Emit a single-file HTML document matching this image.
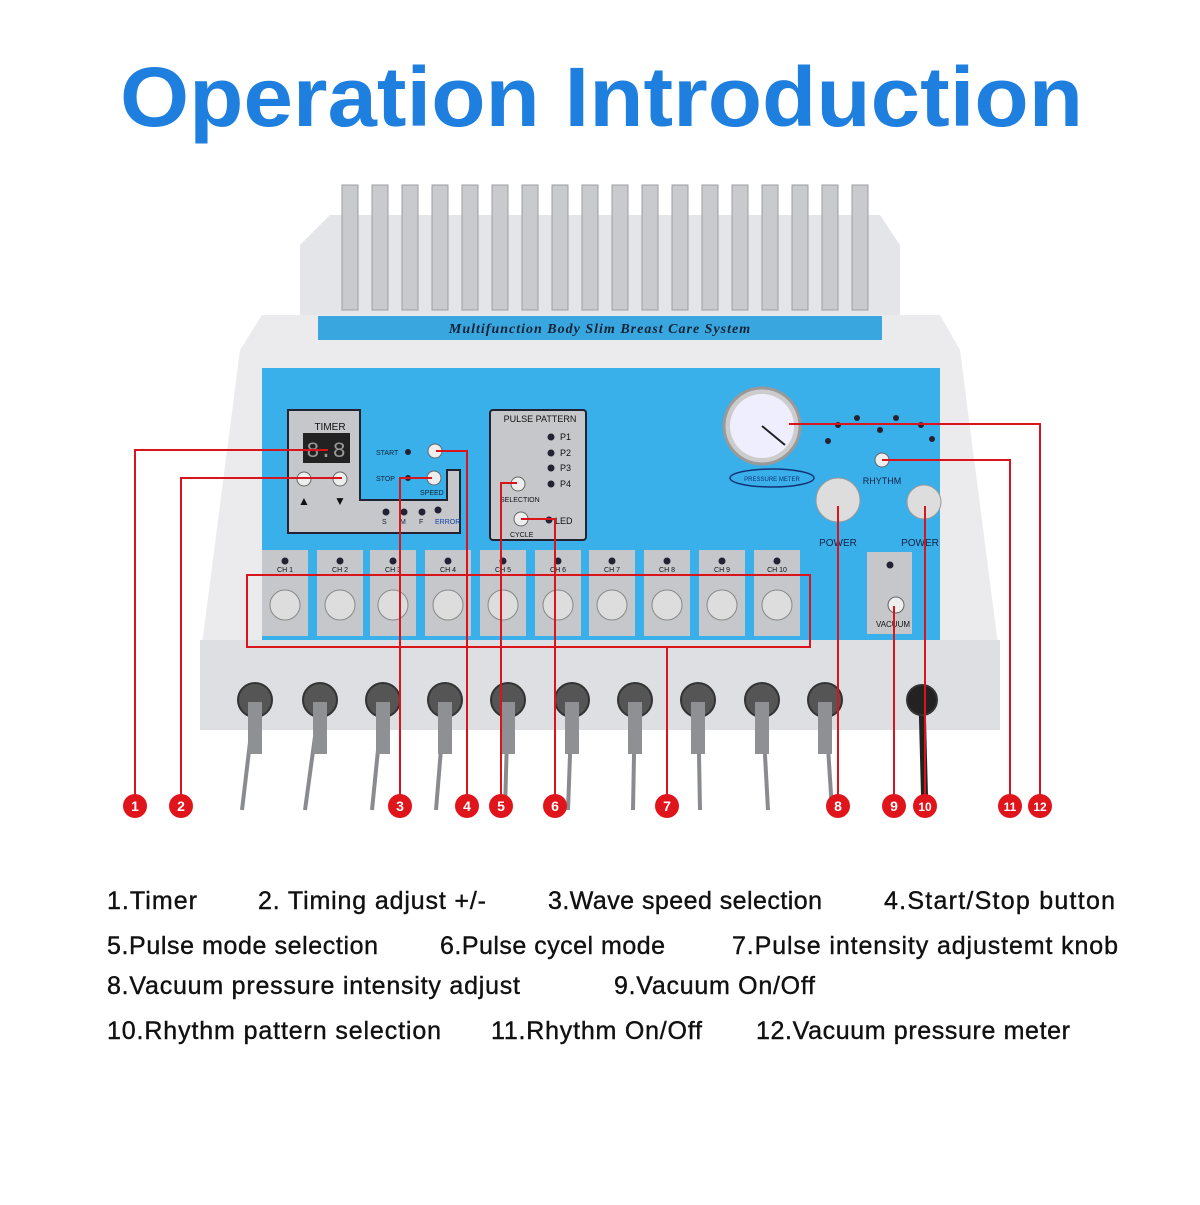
<!DOCTYPE html>
<html><head><meta charset="utf-8"><style>
body{margin:0;width:1200px;height:1200px;background:#fff;overflow:hidden;font-family:"Liberation Sans",sans-serif}
</style></head><body>
<svg width="1200" height="1200" viewBox="0 0 1200 1200" xmlns="http://www.w3.org/2000/svg" font-family="Liberation Sans, sans-serif">
<text x="120" y="126" font-size="84" font-weight="bold" fill="#1e7fdf" textLength="963" lengthAdjust="spacingAndGlyphs">Operation Introduction</text>
<!-- back body -->
<polygon points="300,245 330,215 880,215 900,245 900,320 300,320" fill="#e4e5e8"/>
<!-- fins -->
<g fill="#c9cacd" stroke="#9d9ea2" stroke-width="1">
<rect x="342" y="185" width="16" height="125"/><rect x="372" y="185" width="16" height="125"/><rect x="402" y="185" width="16" height="125"/><rect x="432" y="185" width="16" height="125"/><rect x="462" y="185" width="16" height="125"/><rect x="492" y="185" width="16" height="125"/><rect x="522" y="185" width="16" height="125"/><rect x="552" y="185" width="16" height="125"/><rect x="582" y="185" width="16" height="125"/><rect x="612" y="185" width="16" height="125"/><rect x="642" y="185" width="16" height="125"/><rect x="672" y="185" width="16" height="125"/><rect x="702" y="185" width="16" height="125"/><rect x="732" y="185" width="16" height="125"/><rect x="762" y="185" width="16" height="125"/><rect x="792" y="185" width="16" height="125"/><rect x="822" y="185" width="16" height="125"/><rect x="852" y="185" width="16" height="125"/>
</g>
<!-- main body -->
<polygon points="240,350 262,315 940,315 960,350 1000,660 1000,730 200,730 200,660" fill="#ebebed"/>
<polygon points="200,640 1000,640 1000,730 200,730" fill="#dedfe2"/>
<rect x="318" y="316" width="564" height="24" fill="#3aa6e0"/>
<text x="600" y="333" text-anchor="middle" font-size="14" font-weight="bold" font-style="italic" fill="#123" font-family="Liberation Serif, serif" letter-spacing="1">Multifunction Body Slim Breast Care System</text>
<!-- blue panel -->
<rect x="262" y="368" width="678" height="272" fill="#3ab0ea"/>
<!-- timer -->
<polygon points="288,410 360,410 360,500 447,500 447,470 460,470 460,533 288,533" fill="#c5c7ca" stroke="#223" stroke-width="2"/>
<text x="330" y="430" text-anchor="middle" font-size="10" fill="#111">TIMER</text>
<rect x="303" y="433" width="47" height="30" fill="#222"/>
<text x="326" y="457" text-anchor="middle" font-size="22" fill="#999" font-family="Liberation Mono, monospace">8.8</text>
<circle cx="304" cy="479" r="7" fill="#eee" stroke="#666"/><circle cx="340" cy="479" r="7" fill="#eee" stroke="#666"/>
<text x="304" y="505" text-anchor="middle" font-size="12" fill="#111">▲</text><text x="340" y="505" text-anchor="middle" font-size="12" fill="#111">▼</text>
<text x="376" y="455" font-size="7" fill="#123">START</text><circle cx="408" cy="452" r="3" fill="#223"/><circle cx="435" cy="451" r="7" fill="#eee" stroke="#666"/>
<text x="376" y="481" font-size="7" fill="#123">STOP</text><circle cx="408" cy="478" r="3" fill="#223"/><circle cx="434" cy="478" r="7" fill="#eee" stroke="#666"/>
<text x="420" y="495" font-size="7" fill="#123">SPEED</text>
<circle cx="386" cy="512" r="3.5" fill="#223"/><circle cx="404" cy="512" r="3.5" fill="#223"/><circle cx="422" cy="512" r="3.5" fill="#223"/><circle cx="438" cy="510" r="3.5" fill="#223"/>
<text x="382" y="524" font-size="7" fill="#123">S</text><text x="400" y="524" font-size="7" fill="#123">M</text><text x="419" y="524" font-size="7" fill="#123">F</text><text x="435" y="524" font-size="7" fill="#14a">ERROR</text>
<!-- pulse pattern -->
<rect x="490" y="410" width="96" height="130" fill="#c5c7ca" stroke="#223" stroke-width="2" rx="3"/>
<text x="540" y="417" text-anchor="middle" font-size="9" fill="#111" dy="5">PULSE PATTERN</text>
<g font-size="9" fill="#111"><circle cx="551" cy="437" r="3.5" fill="#223"/><text x="560" y="440">P1</text><circle cx="551" cy="453" r="3.5" fill="#223"/><text x="560" y="456">P2</text><circle cx="551" cy="468" r="3.5" fill="#223"/><text x="560" y="471">P3</text><circle cx="551" cy="484" r="3.5" fill="#223"/><text x="560" y="487">P4</text></g>
<circle cx="518" cy="484" r="7" fill="#eee" stroke="#666"/><text x="500" y="502" font-size="7" fill="#111">SELECTION</text>
<circle cx="521" cy="519" r="7" fill="#eee" stroke="#666"/><circle cx="549" cy="520" r="3.5" fill="#223"/><text x="555" y="524" font-size="9" fill="#111">LED</text><text x="510" y="537" font-size="7" fill="#111">CYCLE</text>
<!-- gauge -->
<circle cx="762" cy="426" r="38" fill="#ccc" stroke="#999" stroke-width="3"/><circle cx="762" cy="426" r="32" fill="#eef"/>
<line x1="762" y1="426" x2="785" y2="445" stroke="#222" stroke-width="2"/>
<ellipse cx="772" cy="478" rx="42" ry="9" fill="none" stroke="#137" stroke-width="1.5"/><text x="772" y="481" text-anchor="middle" font-size="6" fill="#137">PRESSURE METER</text>
<g fill="#223"><circle cx="857" cy="418" r="3"/><circle cx="896" cy="418" r="3"/><circle cx="838" cy="425" r="3"/><circle cx="880" cy="430" r="3"/><circle cx="921" cy="425" r="3"/><circle cx="828" cy="441" r="3"/><circle cx="932" cy="439" r="3"/></g>
<circle cx="882" cy="460" r="7" fill="#eee" stroke="#666"/><text x="882" y="484" text-anchor="middle" font-size="9" fill="#124">RHYTHM</text>
<circle cx="838" cy="500" r="22" fill="#ddd" stroke="#999"/><text x="838" y="546" text-anchor="middle" font-size="10" fill="#124">POWER</text>
<circle cx="924" cy="502" r="17" fill="#ddd" stroke="#999"/><text x="920" y="546" text-anchor="middle" font-size="10" fill="#124">POWER</text>
<rect x="867" y="552" width="45" height="82" fill="#c5c7ca"/><circle cx="890" cy="565" r="3.5" fill="#223"/><circle cx="896" cy="605" r="8" fill="#eee" stroke="#666"/><text x="893" y="627" text-anchor="middle" font-size="8" fill="#111">VACUUM</text>
<!-- channels -->
<g font-size="7" fill="#111" text-anchor="middle">
<g transform="translate(285,0)"><rect x="-23" y="550" width="46" height="86" fill="#c5c7ca"/><circle cx="0" cy="561" r="3.5" fill="#223"/><text y="572">CH 1</text><circle cx="0" cy="605" r="15" fill="#ddd" stroke="#888"/></g>
<g transform="translate(340,0)"><rect x="-23" y="550" width="46" height="86" fill="#c5c7ca"/><circle cx="0" cy="561" r="3.5" fill="#223"/><text y="572">CH 2</text><circle cx="0" cy="605" r="15" fill="#ddd" stroke="#888"/></g>
<g transform="translate(393,0)"><rect x="-23" y="550" width="46" height="86" fill="#c5c7ca"/><circle cx="0" cy="561" r="3.5" fill="#223"/><text y="572">CH 3</text><circle cx="0" cy="605" r="15" fill="#ddd" stroke="#888"/></g>
<g transform="translate(448,0)"><rect x="-23" y="550" width="46" height="86" fill="#c5c7ca"/><circle cx="0" cy="561" r="3.5" fill="#223"/><text y="572">CH 4</text><circle cx="0" cy="605" r="15" fill="#ddd" stroke="#888"/></g>
<g transform="translate(503,0)"><rect x="-23" y="550" width="46" height="86" fill="#c5c7ca"/><circle cx="0" cy="561" r="3.5" fill="#223"/><text y="572">CH 5</text><circle cx="0" cy="605" r="15" fill="#ddd" stroke="#888"/></g>
<g transform="translate(558,0)"><rect x="-23" y="550" width="46" height="86" fill="#c5c7ca"/><circle cx="0" cy="561" r="3.5" fill="#223"/><text y="572">CH 6</text><circle cx="0" cy="605" r="15" fill="#ddd" stroke="#888"/></g>
<g transform="translate(612,0)"><rect x="-23" y="550" width="46" height="86" fill="#c5c7ca"/><circle cx="0" cy="561" r="3.5" fill="#223"/><text y="572">CH 7</text><circle cx="0" cy="605" r="15" fill="#ddd" stroke="#888"/></g>
<g transform="translate(667,0)"><rect x="-23" y="550" width="46" height="86" fill="#c5c7ca"/><circle cx="0" cy="561" r="3.5" fill="#223"/><text y="572">CH 8</text><circle cx="0" cy="605" r="15" fill="#ddd" stroke="#888"/></g>
<g transform="translate(722,0)"><rect x="-23" y="550" width="46" height="86" fill="#c5c7ca"/><circle cx="0" cy="561" r="3.5" fill="#223"/><text y="572">CH 9</text><circle cx="0" cy="605" r="15" fill="#ddd" stroke="#888"/></g>
<g transform="translate(777,0)"><rect x="-23" y="550" width="46" height="86" fill="#c5c7ca"/><circle cx="0" cy="561" r="3.5" fill="#223"/><text y="572">CH 10</text><circle cx="0" cy="605" r="15" fill="#ddd" stroke="#888"/></g>
</g>
<!-- connectors & cables -->
<g stroke="#8a8b8f" stroke-width="4" fill="none">
<path d="M255,700 L242,810"/><path d="M320,700 L305,810"/><path d="M383,700 L372,810"/><path d="M445,700 L436,810"/><path d="M508,700 L505,810"/><path d="M572,700 L568,810"/><path d="M635,700 L633,810"/><path d="M698,700 L700,810"/><path d="M762,700 L768,810"/><path d="M825,700 L832,810"/>
</g>
<path d="M922,700 L925,815" stroke="#222" stroke-width="7"/>
<g fill="#555" stroke="#333" stroke-width="2">
<circle cx="255" cy="700" r="17"/><circle cx="320" cy="700" r="17"/><circle cx="383" cy="700" r="17"/><circle cx="445" cy="700" r="17"/><circle cx="508" cy="700" r="17"/><circle cx="572" cy="700" r="17"/><circle cx="635" cy="700" r="17"/><circle cx="698" cy="700" r="17"/><circle cx="762" cy="700" r="17"/><circle cx="825" cy="700" r="17"/><circle cx="922" cy="700" r="15" fill="#222"/>
</g>
<g fill="#8f9094"><rect x="248" y="702" width="14" height="52"/><rect x="313" y="702" width="14" height="52"/><rect x="376" y="702" width="14" height="52"/><rect x="438" y="702" width="14" height="52"/><rect x="501" y="702" width="14" height="52"/><rect x="565" y="702" width="14" height="52"/><rect x="628" y="702" width="14" height="52"/><rect x="691" y="702" width="14" height="52"/><rect x="755" y="702" width="14" height="52"/><rect x="818" y="702" width="14" height="52"/></g>
<!-- red lines -->
<g stroke="#d9141b" stroke-width="2" fill="none">
<path d="M135,805 V450 H328"/><path d="M181,805 V478 H342"/><path d="M400,805 V478 H432"/><path d="M467,805 V451 H436"/><path d="M501,805 V483 H517"/><path d="M555,805 V519 H521"/>
<rect x="247" y="575" width="563" height="72"/><path d="M667,805 V647"/>
<path d="M838,805 V506"/><path d="M894,805 V606"/><path d="M925,805 V506"/><path d="M1010,805 V460 H882"/><path d="M1040,805 V424 H789"/>
</g>
<g fill="#e0141b"><circle cx="135" cy="806" r="12"/><circle cx="181" cy="806" r="12"/><circle cx="400" cy="806" r="12"/><circle cx="467" cy="806" r="12"/><circle cx="501" cy="806" r="12"/><circle cx="555" cy="806" r="12"/><circle cx="667" cy="806" r="12"/><circle cx="838" cy="806" r="12"/><circle cx="894" cy="806" r="12"/><circle cx="925" cy="806" r="12"/><circle cx="1010" cy="806" r="12"/><circle cx="1040" cy="806" r="12"/></g>
<g fill="#fff" font-size="14" font-weight="bold" text-anchor="middle"><text x="135" y="811">1</text><text x="181" y="811">2</text><text x="400" y="811">3</text><text x="467" y="811">4</text><text x="501" y="811">5</text><text x="555" y="811">6</text><text x="667" y="811">7</text><text x="838" y="811">8</text><text x="894" y="811">9</text><text x="925" y="811" font-size="12">10</text><text x="1010" y="811" font-size="12">11</text><text x="1040" y="811" font-size="12">12</text></g>
<!-- legend -->
<g font-size="25" fill="#111" stroke="#111" stroke-width="0.4" lengthAdjust="spacingAndGlyphs">
<text x="107" y="909" textLength="90">1.Timer</text><text x="258" y="909" textLength="228">2. Timing adjust +/-</text><text x="548" y="909" textLength="274">3.Wave speed selection</text><text x="884" y="909" textLength="231">4.Start/Stop button</text>
<text x="107" y="954" textLength="271">5.Pulse mode selection</text><text x="440" y="954" textLength="225">6.Pulse cycel mode</text><text x="732" y="954" textLength="386">7.Pulse intensity adjustemt knob</text>
<text x="107" y="994" textLength="413">8.Vacuum pressure intensity adjust</text><text x="614" y="994" textLength="201">9.Vacuum On/Off</text>
<text x="107" y="1039" textLength="334">10.Rhythm pattern selection</text><text x="491" y="1039" textLength="211">11.Rhythm On/Off</text><text x="756" y="1039" textLength="314">12.Vacuum pressure meter</text>
</g>
</svg>
</body></html>
